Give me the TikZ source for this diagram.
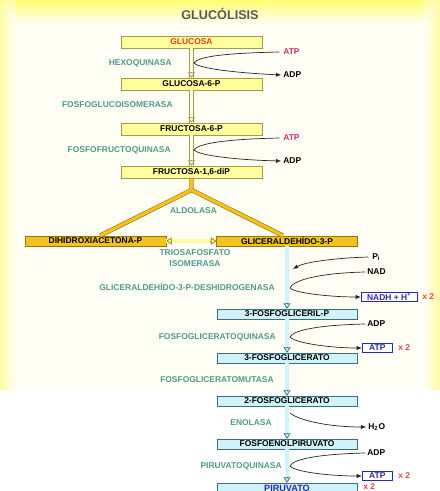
\documentclass[tikz,border=0pt]{standalone}
\usepackage{fontspec}
\setmainfont{Liberation Sans}
\usetikzlibrary{arrows.meta}

\definecolor{paleyellow}{HTML}{FFFF9C}
\definecolor{olivedge}{HTML}{A89A48}
\definecolor{gold}{HTML}{F2C21E}
\definecolor{goldedge}{HTML}{9A7410}
\definecolor{paleblue}{HTML}{CFF3F8}
\definecolor{tealedge}{HTML}{3C6E7C}
\definecolor{enzyme}{HTML}{4E9A88}
\definecolor{crimson}{HTML}{C8306A}
\definecolor{darkblue}{HTML}{2A2AA8}
\definecolor{timesred}{HTML}{E04848}
\definecolor{glucred}{HTML}{E03A1E}

\tikzset{
	txt/.style = {font = \fontsize{4.8}{5.5}\selectfont\bfseries, inner sep = 0pt},
	ybox/.style = {txt, draw = olivedge, fill = paleyellow, minimum width = 2.82cm, minimum height = 0.24cm},
	gbox/.style = {txt, draw = goldedge, fill = gold, minimum width = 2.82cm, minimum height = 0.2cm},
	bbox/.style = {txt, draw = tealedge, fill = paleblue, minimum width = 2.8cm, minimum height = 0.2cm},
	cofbox/.style = {txt, draw = darkblue, fill = white, text = darkblue, minimum height = 0.18cm, minimum width = 0.6cm, inner xsep = 2pt},
	enz/.style = {txt, text = enzyme, anchor = east},
	cof/.style = {txt, anchor = west},
	twice/.style = {txt, text = timesred, anchor = west},
	yshaft/.style = {draw = olivedge, double = yellow!8, double distance = 1.8pt, line width = 0.35pt},
	gshaft/.style = {draw = goldedge, double = gold, double distance = 1.8pt, line width = 0.35pt},
	bshaft/.style = {draw = tealedge, double = paleblue, double distance = 1.8pt, line width = 0.4pt},
	tip/.style = {-{Triangle[open, length = 3pt, width = 4pt]}},
	curve/.style = {black!85, line width = 0.4pt},
	curvearrow/.style = {curve, -{Latex[length = 3pt, width = 2.4pt]}}
}

\begin{document}
\begin{tikzpicture}[x = 0.02cm, y = -0.02cm]

	\useasboundingbox (0, 0) rectangle (440, 491);
	
	% Background
	
	\fill [white] (0, 0) rectangle (440, 491);
	\foreach \i in {0, 1, ..., 7}
	{
		\pgfmathtruncatemacro{\shadeval}{36 - 4.5 * \i}
		\fill [yellow!\shadeval] (2 * \i, 3 * \i) rectangle (440 - 2 * \i, 390);
	}
	\shade [top color = yellow!60, bottom color = yellow!0, opacity = 0.8] (16, 0) rectangle (424, 26);
	
	\node [txt, font = \fontsize{7.2}{8}\selectfont\bfseries, text = black!65] (title) at (220, 14) {GLUCÓLISIS};
	
	% The boxes
	
	\node [ybox, text = glucred] (glu) at (191.5, 42) {GLUCOSA};
	\node [ybox] (g6p) at (191.5, 84) {GLUCOSA-6-P};
	\node [ybox] (f6p) at (191.5, 129) {FRUCTOSA-6-P};
	\node [ybox] (fbp) at (191.5, 172) {FRUCTOSA-1,6-diP};
	
	\node [gbox] (dhap) at (95.5, 241) {DIHIDROXIACETONA-P};
	\node [gbox] (gap) at (287, 241) {GLICERALDEHÍDO-3-P};
	
	\node [bbox] (bpg) at (287, 314) {3-FOSFOGLICERIL-P};
	\node [bbox] (pg3) at (287, 358) {3-FOSFOGLICERATO};
	\node [bbox] (pg2) at (287, 401) {2-FOSFOGLICERATO};
	\node [bbox] (pep) at (287, 444) {FOSFOENOLPIRUVATO};
	\node [bbox, text = darkblue, font = \fontsize{5.2}{6}\selectfont\bfseries] (pyr) at (287, 488) {PIRUVATO};
	
	% Main arrows
	
	\draw [yshaft] (glu) -- (g6p);
	\draw [yshaft] (g6p) -- (f6p);
	\draw [yshaft] (f6p) -- (fbp);
	\foreach \a/\b in {glu/g6p, g6p/f6p, f6p/fbp}
		\draw [olivedge, line width = 0.4pt, tip] ([yshift = 0.12cm]\b.north) -- (\b.north);
	
	\coordinate (split) at (191.5, 190);
	\draw [gshaft] (fbp.south) -- (split) -- ([xshift = 0.09cm]dhap.north);
	\draw [gshaft] (split) -- ([xshift = -0.08cm]gap.north);
	\draw [gshaft, double = paleyellow] (dhap.east) -- (gap.west);
	\draw [goldedge, line width = 0.4pt, tip] ([xshift = -0.12cm]gap.west) -- (gap.west);
	\draw [goldedge, line width = 0.4pt, tip] ([xshift = 0.12cm]dhap.east) -- (dhap.east);
	
	\foreach \a/\b in {gap/bpg, bpg/pg3, pg3/pg2, pg2/pep, pep/pyr}
	{
		\draw [bshaft] (\a) -- (\b);
		\draw [tealedge, line width = 0.4pt, tip] ([yshift = 0.12cm]\b.north) -- (\b.north);
	}
	\node [twice] (pyrtwice) at (363, 487) {x 2};
	
	% Enzymes
	
	\node [enz] (hk) at (172, 63) {HEXOQUINASA};
	\node [enz] (pgi) at (173, 105) {FOSFOGLUCOISOMERASA};
	\node [enz] (pfk) at (171, 150) {FOSFOFRUCTOQUINASA};
	\node [txt, text = enzyme] (ald) at (193.5, 211) {ALDOLASA};
	\node [txt, text = enzyme, align = center, font = \fontsize{4.8}{5.8}\selectfont\bfseries] (tpi) at (195, 258) {TRIOSAFOSFATO\\ISOMERASA};
	\node [enz] (gapdh) at (275, 287) {GLICERALDEHÍDO-3-P-DESHIDROGENASA};
	\node [enz] (pgk) at (276, 337) {FOSFOGLICERATOQUINASA};
	\node [enz] (pgm) at (274, 380) {FOSFOGLICERATOMUTASA};
	\node [enz] (eno) at (272, 423) {ENOLASA};
	\node [enz] (pk) at (282, 466) {PIRUVATOQUINASA};
	
	% Cofactors
	
	\node [cof, text = crimson] (atpa) at (283, 52) {ATP};
	\node [cof] (adpa) at (283, 75) {ADP};
	\node [cof, text = crimson] (atpb) at (283, 138) {ATP};
	\node [cof] (adpb) at (283, 161) {ADP};
	\node [cof] (pi) at (372, 257) {P\textsubscript{i}};
	\node [cof] (nad) at (367, 272) {NAD};
	\node [cofbox, anchor = west, minimum width = 1.12cm] (nadh) at (361, 297) {NADH + H\textsuperscript{+}};
	\node [twice] at (422, 297) {x 2};
	\node [cof] (adpc) at (367, 324) {ADP};
	\node [cofbox, anchor = west] (atpc) at (362, 348) {ATP};
	\node [twice] at (398, 348) {x 2};
	\node [cof] (h2o) at (368, 427) {H\textsubscript{2}O};
	\node [cof] (adpd) at (367, 453) {ADP};
	\node [cofbox, anchor = west] (atpd) at (362, 476) {ATP};
	\node [twice] at (398, 476) {x 2};
	
	% Side reactions
	
	\coordinate (cusp1) at (194, 63);
	\coordinate (cusp2) at (194, 150);
	\coordinate (pin) at (293, 269);
	\coordinate (cusp3) at (290, 288);
	\coordinate (cusp4) at (290, 337);
	\coordinate (enoout) at (290, 413);
	\coordinate (cusp5) at (290, 466);
	
	\draw [curvearrow] ([xshift = -2pt]atpa.west) .. controls (230, 53) and (198, 56) .. (cusp1) .. controls (200, 69) and (240, 73) .. ([xshift = -1pt]adpa.west);
	\draw [curvearrow] ([xshift = -2pt]atpb.west) .. controls (230, 139) and (198, 143) .. (cusp2) .. controls (200, 156) and (240, 160) .. ([xshift = -1pt]adpb.west);
	\draw [curvearrow] ([xshift = -2pt]pi.west) .. controls (335, 258) and (305, 262) .. (pin);
	\draw [curvearrow] ([xshift = -1pt]nad.west) .. controls (320, 273) and (293, 280) .. (cusp3) .. controls (295, 293) and (330, 297) .. (nadh.west);
	\draw [curvearrow] ([xshift = -1pt]adpc.west) .. controls (320, 325) and (293, 330) .. (cusp4) .. controls (295, 343) and (330, 348) .. (atpc.west);
	\draw [curvearrow] (enoout) .. controls (300, 421) and (330, 427) .. ([xshift = -1pt]h2o.west);
	\draw [curvearrow] ([xshift = -1pt]adpd.west) .. controls (320, 454) and (293, 459) .. (cusp5) .. controls (295, 472) and (330, 476) .. (atpd.west);

\end{tikzpicture}
\end{document}
